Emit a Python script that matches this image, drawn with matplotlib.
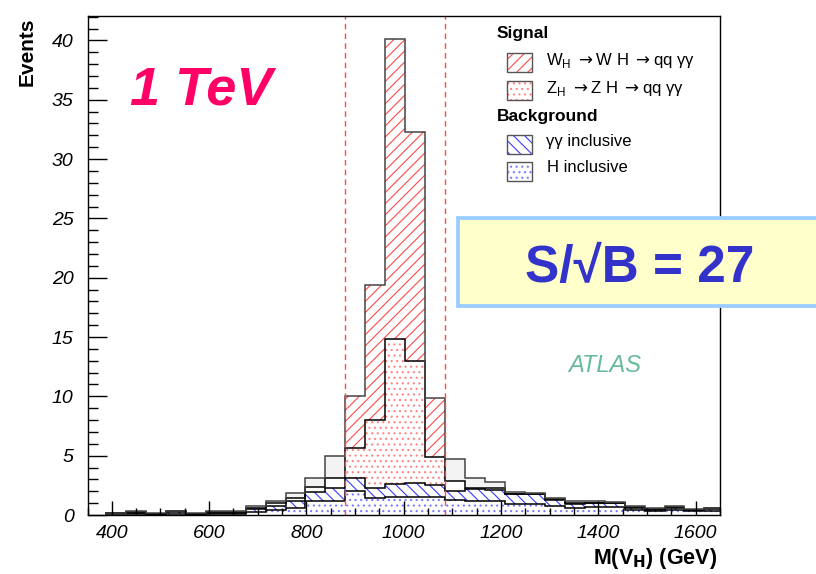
import numpy as np
import matplotlib.pyplot as plt
from matplotlib.patches import Rectangle
from matplotlib.ticker import MultipleLocator

plt.rcParams['font.family'] = ['Liberation Sans', 'DejaVu Sans']
plt.rcParams['hatch.linewidth'] = 0.8

# binning of M(V_H) in GeV (41 GeV bins), mass window = bins 12..16
edges = 388 + 41 * np.arange(32)
win_lo, win_hi = 12, 17

# per-bin events (bottom to top)
h_incl = [0.05, 0.1, 0.05, 0.1, 0.05, 0.1, 0.1, 0.25, 0.4, 0.6, 1.15, 1.15, 2.0, 1.4, 1.5, 1.55,
          1.55, 1.27, 1.15, 1.18, 0.96, 0.96, 0.8, 0.6, 0.7, 0.7, 0.45, 0.35, 0.45, 0.3, 0.35]
gg_incl = [0.1, 0.1, 0.05, 0.15, 0.05, 0.1, 0.1, 0.25, 0.4, 0.6, 0.8, 1.15, 1.1, 0.85, 1.1, 1.12,
           0.98, 0.78, 1.0, 0.92, 0.78, 0.78, 0.5, 0.36, 0.28, 0.28, 0.15, 0.1, 0.15, 0.1, 0.15]
zh_sig = [0.03, 0.05, 0.02, 0.05, 0.02, 0.05, 0.05, 0.1, 0.2, 0.25, 0.4, 0.85, 2.55, 5.75, 12.2, 10.3,
          2.37, 0.8, 0.1, 0.15, 0.06, 0.06, 0.05, 0.04, 0.07, 0.04, 0.05, 0.05, 0.05, 0.05, 0.05]
wh_sig = [0.02, 0.05, 0.03, 0.05, 0.03, 0.05, 0.05, 0.2, 0.2, 0.43, 0.8, 1.85, 4.35, 11.35, 25.3, 19.33,
          4.95, 1.85, 0.9, 0.51, 0.17, 0.08, 0.05, 0.15, 0.13, 0.1, 0.11, 0.06, 0.11, 0.05, 0.07]

RED = '#ff4a4a'
RED_DOT = '#ff8585'
BLUE = '#3a3aff'
BLUE_DOT = '#7a7aff'

c1 = np.array(h_incl)
c2 = c1 + np.array(gg_incl)
c3 = c2 + np.array(zh_sig)
c4 = c3 + np.array(wh_sig)

fig = plt.figure(figsize=(8.16, 5.74), dpi=100)
ax = fig.add_axes([87.5 / 816, 1 - 515 / 574, 632.5 / 816, 499.5 / 574])

# fills
ax.stairs(c1, edges, baseline=0, fill=True, facecolor='white', edgecolor=BLUE_DOT, hatch='...', lw=0)
ax.stairs(c2, edges, baseline=c1, fill=True, facecolor='white', edgecolor=BLUE, hatch='\\\\\\', lw=0)
ax.stairs(c3, edges, baseline=c2, fill=True, facecolor='white', lw=0)
ax.stairs(c4, edges, baseline=c3, fill=True, facecolor='#f3f3f3', lw=0)

# signal inside the mass window
s = slice(win_lo, win_hi)
e = edges[win_lo:win_hi + 1]
ax.stairs(c3[s], e, baseline=c2[s], fill=True, facecolor='white', edgecolor=RED_DOT, hatch='...', lw=0)
ax.stairs(c4[s], e, baseline=c3[s], fill=True, facecolor='white', edgecolor=RED, hatch='///', lw=0)

# outlines
for top, col in [(c1, 'black'), (c2, 'black'), (c3, 'black'), (c4, '#444444')]:
    ax.stairs(top, edges, baseline=0, color=col, lw=1.1)

ax.axvline(edges[win_lo], color=RED, ls=(0, (4, 3)), lw=1)
ax.axvline(edges[win_hi], color=RED, ls=(0, (4, 3)), lw=1)

ax.set_xlim(350, 1650)
ax.set_ylim(0, 42.1)
ax.xaxis.set_major_locator(MultipleLocator(200))
ax.xaxis.set_minor_locator(MultipleLocator(50))
ax.yaxis.set_major_locator(MultipleLocator(5))
ax.yaxis.set_minor_locator(MultipleLocator(1))
ax.tick_params(which='both', direction='in', top=False, right=False, labelsize=14, width=1)
ax.tick_params(axis='y', which='major', length=13.5, pad=10)
ax.tick_params(axis='y', which='minor', length=7)
ax.tick_params(axis='x', which='major', length=10, pad=7)
ax.tick_params(axis='x', which='minor', length=5)
for lbl in ax.get_xticklabels() + ax.get_yticklabels():
    lbl.set_style('italic')
for sp in ax.spines.values():
    sp.set_linewidth(1)

fig.text(27 / 816, 1 - 18 / 574, 'Events', rotation=90, ha='center', va='top',
         fontsize=15, fontweight='bold')
fig.text(717 / 816, 1 - 564 / 574, r'M(V$_\mathbf{H}$) (GeV)', ha='right', va='baseline',
         fontsize=15.5, fontweight='bold')

# legend
def leg_box(y_top, color, hatch):
    x0, w, h = 507 / 816, 25 / 816, 19 / 574
    y0 = 1 - y_top / 574 - h
    fig.add_artist(Rectangle((x0, y0), w, h, transform=fig.transFigure, facecolor='white',
                             edgecolor=color, hatch=hatch, lw=0))
    fig.add_artist(Rectangle((x0, y0), w, h, transform=fig.transFigure, fill=False,
                             edgecolor='#555555', lw=1))

fig.text(497 / 816, 1 - 33.5 / 574, 'Signal', fontsize=12.5, fontweight='bold', va='center')
leg_box(53.5, RED, '///')
fig.text(546 / 816, 1 - 61 / 574, r'W$_\mathregular{H}$ $\rightarrow$W H $\rightarrow$qq γγ',
         fontsize=12, va='center')
leg_box(81, RED_DOT, '...')
fig.text(546 / 816, 1 - 88 / 574, r'Z$_\mathregular{H}$ $\rightarrow$Z H $\rightarrow$qq γγ',
         fontsize=12, va='center')
fig.text(497 / 816, 1 - 116.5 / 574, 'Background', fontsize=12.5, fontweight='bold', va='center')
leg_box(135, BLUE, '\\\\\\')
fig.text(546 / 816, 1 - 141.5 / 574, 'γγ inclusive', fontsize=12, va='center')
leg_box(162, BLUE_DOT, '...')
fig.text(547 / 816, 1 - 167.5 / 574, 'H inclusive', fontsize=12, va='center')

fig.text(201 / 816, 1 - 104 / 574, '1 TeV', fontsize=39, fontweight='bold', style='italic',
         color='#ff0066', ha='center', va='baseline')
fig.text(605 / 816, 1 - 372 / 574, 'ATLAS', fontsize=17, style='italic', color='#66bb99',
         ha='center', va='baseline')

fig.add_artist(Rectangle((458 / 816, 1 - 305.5 / 574), 0.5, 88 / 574, transform=fig.transFigure,
                         facecolor='#ffffcc', edgecolor='#99ccff', lw=2.7, clip_on=False, zorder=5))
fig.text(640 / 816, 1 - 282 / 574, 'S/√B = 27', fontsize=37, fontweight='bold', color='#3333cc',
         ha='center', va='baseline', zorder=6)

fig.savefig('out.png', dpi=100)
